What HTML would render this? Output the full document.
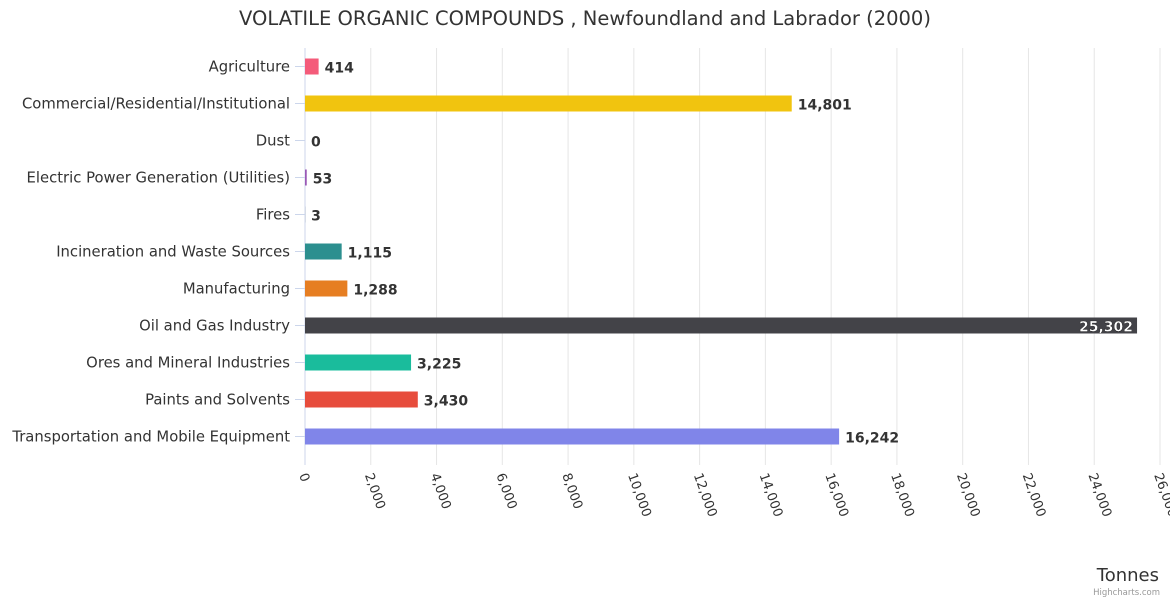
<!DOCTYPE html>
<html><head><meta charset="utf-8"><style>
body{margin:0;background:#fff;font-family:"DejaVu Sans","Liberation Sans",sans-serif}
</style></head><body>
<svg id="c" width="1170" height="600" xmlns="http://www.w3.org/2000/svg" font-family="DejaVu Sans, Liberation Sans, sans-serif">
<text x="585" y="25" text-anchor="middle" font-size="19.5" fill="#333">VOLATILE ORGANIC COMPOUNDS , Newfoundland and Labrador (2000)</text>
<g id="grid"></g><g id="bars"></g><g id="labels"></g>
<text x="1159" y="581" text-anchor="end" font-size="18" fill="#333">Tonnes</text>
<text x="1160" y="595" text-anchor="end" font-size="8.5" fill="#999">Highcharts.com</text>
</svg>
<script>
const categories=["Agriculture","Commercial/Residential/Institutional","Dust","Electric Power Generation (Utilities)","Fires","Incineration and Waste Sources","Manufacturing","Oil and Gas Industry","Ores and Mineral Industries","Paints and Solvents","Transportation and Mobile Equipment"];
const values=[414,14801,0,53,3,1115,1288,25302,3225,3430,16242];
const colors=["#f45b7a","#f1c40f","#2c3e50","#9b59b6","#34495e","#2c8f8f","#e67e22","#434348","#1abc9c","#e74c3c","#8085e9"];
const ticks=[0,2000,4000,6000,8000,10000,12000,14000,16000,18000,20000,22000,24000,26000];
const NS="http://www.w3.org/2000/svg";
const x0=305,x1=1160,plotTop=48,step=37,xmax=26000;
const xs=v=>x0+(x1-x0)*v/xmax;
const yc=i=>plotTop+step*i+step/2;
function mk(t,a,p){const e=document.createElementNS(NS,t);for(const k in a)e.setAttribute(k,a[k]);p.appendChild(e);return e;}
const g=document.getElementById('grid'),b=document.getElementById('bars'),l=document.getElementById('labels');
const bottom=plotTop+step*categories.length;
ticks.forEach(t=>{
 const x=xs(t);
 const ln=mk('line',{x1:x,x2:x,y1:plotTop,y2:bottom+10,stroke:t===0?'#ccd6eb':'#e6e6e6','stroke-width':1},g);
 
 
 const tx=mk('text',{x:x-6,y:bottom+20,'font-size':13,fill:'#333',transform:`rotate(70 ${x-6} ${bottom+20})`},l);
 tx.textContent=t.toLocaleString('en-US');
 
 
});
categories.forEach((c,i)=>{
 const y=yc(i);
 const tk=mk('line',{x1:x0-10,x2:x0,y1:y,y2:y,stroke:'#ccd6eb'},g);
 
 
 const ct=mk('text',{x:290,y:y+5,'text-anchor':'end','font-size':14.8,fill:'#333'},l);
 ct.textContent=c;
 
 
 const w=xs(values[i])-x0;
 const r=mk('rect',{x:x0,y:y-8,width:Math.max(w,0),height:16,fill:colors[i]},b);
 
 
 const inside=w>700;
 const vt=mk('text',{x:inside?x0+w-4:x0+w+6,y:y+6,'text-anchor':inside?'end':'start','font-size':14,'font-weight':'bold',fill:inside?'#fff':'#333',stroke:inside?'#000':'none','stroke-width':inside?0.3:0},l);
 vt.textContent=values[i].toLocaleString('en-US');
 
 
});
</script>
</body></html>
